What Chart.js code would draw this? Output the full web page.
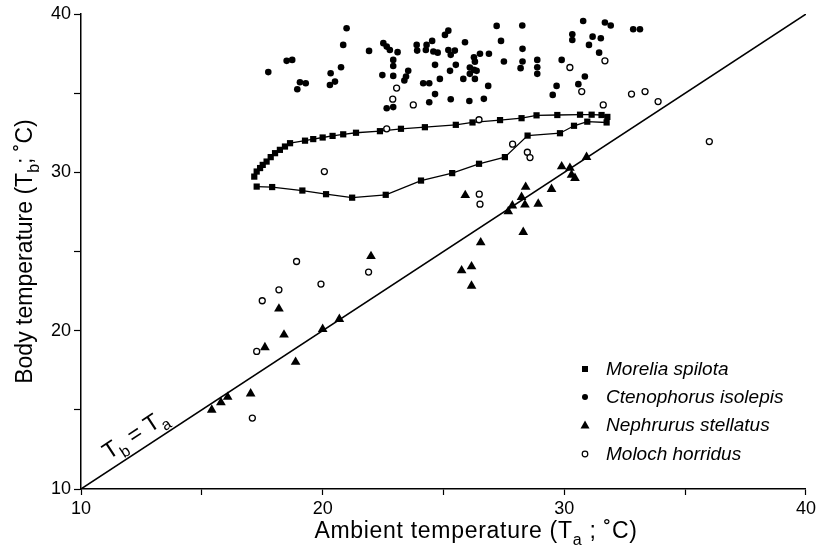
<!DOCTYPE html>
<html>
<head>
<meta charset="utf-8">
<script src="https://cdn.jsdelivr.net/npm/chart.js@4.4.0/dist/chart.umd.min.js"></script>
<style>
html, body { margin: 0; padding: 0; background: #fff; }
#wrap { width: 819px; height: 553px; }
</style>
</head>
<body>
<div id="wrap"><canvas id="myChart" width="819" height="553"></canvas></div>
<script>
// Morelia spilota: one loop, lower branch left->right then upper branch back
var moreliaX = [17.27, 17.91, 19.16, 20.14, 21.22, 22.61, 24.07, 25.36, 26.47, 27.54, 28.48, 29.82, 30.40, 30.95, 31.75,
    31.78, 31.54, 31.13, 30.65, 29.71, 28.85, 28.23, 27.34, 26.20, 25.51, 24.23, 23.24, 22.37, 21.38, 20.85, 20.41,
    20.00, 19.61, 19.27, 18.65, 18.44, 18.23, 18.03, 17.85, 17.68, 17.52, 17.41, 17.27, 17.17];
var moreliaY = [29.10, 29.07, 28.85, 28.62, 28.40, 28.58, 29.48, 29.95, 30.54, 30.96, 32.32, 32.47, 32.94, 33.20, 33.15,
    33.50, 33.62, 33.64, 33.64, 33.62, 33.60, 33.42, 33.30, 33.15, 33.00, 32.85, 32.75, 32.60, 32.50, 32.40, 32.30,
    32.20, 32.10, 32.00, 31.84, 31.63, 31.42, 31.21, 30.96, 30.68, 30.47, 30.27, 30.05, 29.73];

var ctenoX = [20.99, 20.85, 21.92, 22.51, 22.65, 22.78, 23.10, 23.89, 23.91, 18.51, 18.74, 17.75, 19.06, 19.30, 18.95,
    20.33, 20.76, 20.51, 20.30, 22.92, 22.92, 22.47, 22.92, 23.54, 23.45, 23.38, 22.65, 22.92,
    27.20, 28.26, 30.78, 31.68, 31.92, 32.85, 33.13, 25.20, 25.06, 30.33, 30.33, 31.17, 31.51, 31.02, 31.44,
    24.30, 24.27, 24.53, 24.58, 24.76, 25.89, 27.38, 25.20, 25.30, 25.47, 26.51, 26.26, 26.30, 26.88,
    28.27, 28.27, 28.19, 27.50, 28.88, 28.88, 28.88, 29.89, 24.65, 25.51, 25.27, 26.09, 26.26, 26.37, 26.09, 26.30,
    24.85, 25.82, 24.16, 24.41, 26.85, 24.65, 25.30, 26.07, 26.67, 24.41, 29.68, 29.52, 30.58, 30.85];
var ctenoY = [39.10, 38.05, 37.67, 38.16, 37.94, 37.73, 37.59, 38.05, 37.69, 37.04, 37.10, 36.33, 35.69, 35.63, 35.25,
    36.26, 36.64, 35.73, 35.52, 37.10, 36.72, 36.14, 36.09, 36.41, 36.05, 35.80, 34.05, 34.12,
    39.25, 39.27, 39.56, 39.46, 39.27, 39.04, 39.04, 38.95, 38.68, 38.72, 38.36, 38.57, 38.47, 38.05, 37.56,
    38.05, 37.73, 38.30, 37.63, 37.56, 38.22, 38.30, 37.73, 37.42, 37.69, 37.49, 37.27, 36.99, 37.49,
    37.80, 37.00, 36.58, 37.00, 37.10, 36.64, 36.22, 37.10, 36.79, 36.79, 36.41, 36.62, 36.47, 36.41, 36.22, 35.90,
    35.90, 35.90, 35.63, 35.63, 35.46, 34.94, 34.62, 34.51, 34.64, 34.43, 35.46, 34.89, 35.57, 36.05];

var nephX = [15.41, 15.79, 16.07, 17.02, 17.61, 18.19, 18.40, 18.88, 20.00, 20.69, 22.00, 25.75, 26.16, 26.16, 26.54,
    25.90, 27.68, 27.85, 28.23, 28.37, 28.40, 28.30, 28.92, 29.47, 29.89, 30.23, 30.30, 30.44, 30.92];
var nephY = [15.00, 15.47, 15.81, 16.02, 18.94, 21.38, 19.74, 18.02, 20.10, 20.73, 24.70, 23.80, 24.05, 22.83, 25.57,
    28.55, 27.53, 27.90, 28.43, 27.95, 29.07, 26.22, 28.01, 28.94, 30.37, 30.27, 29.84, 29.63, 30.96];

var molochX = [23.06, 22.90, 23.75, 26.47, 30.23, 31.68, 30.72, 31.61, 32.78, 33.34, 33.88, 22.65, 20.07, 27.86, 28.47,
    28.58, 26.48, 26.51, 36.00, 18.92, 19.93, 18.19, 17.50, 17.27, 17.09, 21.90];
var molochY = [35.32, 34.62, 34.26, 33.32, 36.62, 37.04, 35.10, 34.26, 34.94, 35.10, 34.47, 32.75, 30.05, 31.78, 31.27,
    30.93, 28.62, 27.99, 31.94, 24.37, 22.94, 22.58, 21.89, 18.69, 14.48, 23.70];

var identityLine = [10, 40]; // Tb = Ta

var xTicks = [10, 15, 20, 25, 30, 35, 40];
var xTickLabels = ['10', '', '20', '', '30', '', '40'];
var yTicks = [10, 15, 20, 25, 30, 35, 40];
var yTickLabels = ['10', '', '20', '', '30', '', '40'];

var seriesNames = ['Morelia spilota', 'Ctenophorus isolepis', 'Nephrurus stellatus', 'Moloch horridus'];

function pts(xs, ys) {
    return xs.map(function (v, i) { return { x: v, y: ys[i] }; });
}

var FONT = '"Liberation Sans", Arial, Helvetica, sans-serif';

// draws a run of text where some pieces are subscripts
function drawParts(ctx, parts, cx, cy, size, align, spacing) {
    var subSize = Math.round(size * 0.68);
    var total = 0;
    ctx.letterSpacing = (spacing || 0) + 'px';
    parts.forEach(function (p) {
        ctx.font = (p.sub ? subSize : size) + 'px ' + FONT;
        p.w = ctx.measureText(p.t).width;
        total += p.w;
    });
    var x = align === 'left' ? cx : cx - total / 2;
    ctx.textBaseline = 'alphabetic';
    ctx.textAlign = 'left';
    parts.forEach(function (p) {
        ctx.font = (p.sub ? subSize : size) + 'px ' + FONT;
        ctx.fillText(p.t, x, cy + (p.sub ? size * 0.3 : 0));
        x += p.w;
    });
    ctx.letterSpacing = '0px';
}

function drawMarker(ctx, style, x, y) {
    ctx.beginPath();
    if (style === 'rect') {
        ctx.rect(x - 3, y - 3, 6, 6);
        ctx.fill();
    } else if (style === 'dot') {
        ctx.arc(x, y, 3, 0, Math.PI * 2);
        ctx.fill();
    } else if (style === 'tri') {
        ctx.moveTo(x, y - 4.5);
        ctx.lineTo(x + 4.5, y + 3.5);
        ctx.lineTo(x - 4.5, y + 3.5);
        ctx.closePath();
        ctx.fill();
    } else {
        ctx.arc(x, y, 2.8, 0, Math.PI * 2);
        ctx.lineWidth = 1.2;
        ctx.stroke();
    }
}

const textPlugin = {
    id: 'textPlugin',
    afterDraw(chart) {
        const { ctx, chartArea: { top, bottom }, scales: { x, y } } = chart;
        ctx.save();
        ctx.fillStyle = '#000';
        ctx.strokeStyle = '#000';

        // axis titles
        drawParts(ctx, [{ t: 'Ambient temperature (T' }, { t: 'a', sub: true }, { t: ' ; \u02DAC)' }], 476, 538, 23, 'center', 0.7);
        ctx.save();
        ctx.translate(32, (top + bottom) / 2);
        ctx.rotate(-Math.PI / 2);
        drawParts(ctx, [{ t: 'Body temperature (T' }, { t: 'b', sub: true }, { t: '; \u02DAC)' }], 0, 0, 23);
        ctx.restore();

        // Tb = Ta label along the line
        var x0 = x.getPixelForValue(10), y0 = y.getPixelForValue(10);
        var x1 = x.getPixelForValue(40), y1 = y.getPixelForValue(40);
        var ang = Math.atan2(y1 - y0, x1 - x0);
        var px = x.getPixelForValue(11.35), py = y.getPixelForValue(11.35);
        var off = 9;
        ctx.save();
        ctx.translate(px + Math.sin(ang) * off, py - Math.cos(ang) * off);
        ctx.rotate(ang);
        drawParts(ctx, [{ t: 'T' }, { t: 'b', sub: true }, { t: ' = T' }, { t: 'a', sub: true }], 0, 0, 23, 'left');
        ctx.restore();

        // legend
        var styles = ['rect', 'dot', 'tri', 'ring'];
        var rowY = [369, 397, 425, 454];
        ctx.font = 'italic 19px ' + FONT;
        ctx.textBaseline = 'middle';
        ctx.textAlign = 'left';
        seriesNames.forEach(function (name, i) {
            drawMarker(ctx, styles[i], 585, rowY[i]);
            ctx.fillText(name, 606, rowY[i] + 1);
        });
        ctx.restore();
    }
};

var tickFont = { family: FONT, size: 18 };

const config = {
    type: 'scatter',
    data: {
        datasets: [
            {
                label: seriesNames[3],
                data: pts(molochX, molochY),
                pointStyle: 'circle',
                pointRadius: 3,
                pointBorderWidth: 1.3,
                pointBackgroundColor: '#fff',
                pointBorderColor: '#000'
            },
            {
                label: seriesNames[0],
                data: pts(moreliaX, moreliaY),
                showLine: true,
                borderColor: '#000',
                borderWidth: 1.3,
                pointStyle: 'rect',
                pointRadius: 4.4,
                pointBorderWidth: 0,
                pointBackgroundColor: '#000'
            },
            {
                label: seriesNames[1],
                data: pts(ctenoX, ctenoY),
                pointStyle: 'circle',
                pointRadius: 3.3,
                pointBorderWidth: 0,
                pointBackgroundColor: '#000'
            },
            {
                label: seriesNames[2],
                data: pts(nephX, nephY),
                pointStyle: 'triangle',
                pointRadius: 5.6,
                pointBorderWidth: 0,
                pointBackgroundColor: '#000'
            },
            {
                label: 'Tb = Ta',
                data: pts(identityLine, identityLine),
                showLine: true,
                borderColor: '#000',
                borderWidth: 1.5,
                pointRadius: 0
            }
        ]
    },
    plugins: [textPlugin],
    options: {
        responsive: false,
        animation: false,
        layout: { padding: { top: 14, right: 13, left: 0, bottom: 0 } },
        plugins: {
            legend: { display: false },
            tooltip: { enabled: false }
        },
        scales: {
            x: {
                type: 'linear',
                min: 10,
                max: 40,
                afterBuildTicks: function (s) { s.ticks = xTicks.map(function (v) { return { value: v }; }); },
                afterFit: function (s) { s.height = 64; },
                ticks: {
                    autoSkip: false,
                    maxRotation: 0,
                    color: '#000',
                    font: tickFont,
                    padding: 3,
                    callback: function (v, i) { return xTickLabels[i]; }
                },
                grid: { drawOnChartArea: false, drawTicks: true, tickLength: 6, tickColor: '#000', tickWidth: 1.2 },
                border: { color: '#000', width: 1.5 }
            },
            y: {
                type: 'linear',
                min: 10,
                max: 40,
                afterBuildTicks: function (s) { s.ticks = yTicks.map(function (v) { return { value: v }; }); },
                afterFit: function (s) { s.width = 81; },
                ticks: {
                    autoSkip: false,
                    color: '#000',
                    font: tickFont,
                    padding: 3,
                    callback: function (v, i) { return yTickLabels[i]; }
                },
                grid: { drawOnChartArea: false, drawTicks: true, tickLength: 7, tickColor: '#000', tickWidth: 1.2 },
                border: { color: '#000', width: 1.5 }
            }
        }
    }
};

var myChart = new Chart(document.getElementById('myChart'), config);
</script>
</body>
</html>
